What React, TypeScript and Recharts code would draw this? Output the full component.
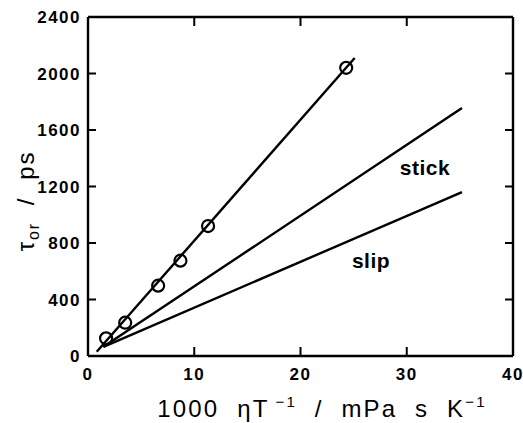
import React from 'react';
import { ComposedChart, Line, Scatter, XAxis, YAxis } from 'recharts';

// measured orientational relaxation times
const measuredX = [1.7, 3.5, 6.6, 8.7, 11.3, 24.3];
const measuredTau = [125, 236, 498, 675, 920, 2040];

// least squares fit through the measured points
const fitX = [0.82, 25.1];
const fitTau = [30, 2110];

// hydrodynamic predictions
const stickX = [1.45, 35.2];
const stickTau = [65, 1755];
const slipX = [1.45, 35.2];
const slipTau = [65, 1160];

const xTicks = [0, 10, 20, 30, 40];
const yTicks = [0, 400, 800, 1200, 1600, 2000, 2400];

const X_MAX = 40;
const Y_MAX = 2400;

const zip = (xs: number[], ys: number[]) => xs.map((x, i) => ({ x, y: ys[i] }));

const measured = zip(measuredX, measuredTau);
const fit = zip(fitX, fitTau);
const stick = zip(stickX, stickTau);
const slip = zip(slipX, slipTau);

const FONT = '"Liberation Sans", Arial, sans-serif';
const LW = 2.4;
const TICK = 9;

const tickStyle = { fill: '#000', fontSize: 17, fontWeight: 700, fontFamily: FONT, letterSpacing: 1.5 };
const noLabel = () => '';

const OpenCircle = (props: any) => {
  const { cx, cy } = props;
  return <circle cx={cx} cy={cy} r={6} fill="none" stroke="#000" strokeWidth={2.2} />;
};

const App: React.FC = () => {
  return (
    <div style={{ position: 'absolute', left: 0, top: 0, width: 523, height: 423, background: '#fff' }}>
      <ComposedChart width={523} height={423} margin={{ top: 16, right: 9, bottom: 0, left: 28 }}>
        {/* ticks are drawn outwards by recharts, shift them so they point into the frame */}
        <XAxis
          xAxisId="b"
          type="number"
          dataKey="x"
          domain={[0, X_MAX]}
          ticks={xTicks}
          stroke="#000"
          strokeWidth={LW}
          tickSize={TICK}
          tickLine={{ transform: `translate(0,-${TICK})`, strokeWidth: 2 }}
          tickMargin={3}
          height={67}
          tick={tickStyle}
        />
        <XAxis
          xAxisId="t"
          orientation="top"
          type="number"
          dataKey="x"
          domain={[0, X_MAX]}
          ticks={xTicks}
          stroke="#000"
          strokeWidth={LW}
          tickSize={TICK}
          tickLine={{ transform: `translate(0,${TICK})`, strokeWidth: 2 }}
          tickFormatter={noLabel}
          height={1}
        />
        <YAxis
          yAxisId="l"
          type="number"
          dataKey="y"
          domain={[0, Y_MAX]}
          ticks={yTicks}
          stroke="#000"
          strokeWidth={LW}
          tickSize={8}
          tickLine={{ transform: 'translate(8,0)', strokeWidth: 2 }}
          tickMargin={-1}
          width={60}
          tick={tickStyle}
        />
        <YAxis
          yAxisId="r"
          orientation="right"
          type="number"
          dataKey="y"
          domain={[0, Y_MAX]}
          ticks={yTicks}
          stroke="#000"
          strokeWidth={LW}
          tickSize={8}
          tickLine={{ transform: 'translate(-8,0)', strokeWidth: 2 }}
          tickFormatter={noLabel}
          width={1}
        />
        {/* keeps the top and right frame axes bound to the same scales */}
        <Line xAxisId="t" yAxisId="r" data={fit} dataKey="y" stroke="none" dot={false} legendType="none" isAnimationActive={false} />
        <Line xAxisId="b" yAxisId="l" data={fit} dataKey="y" type="linear" stroke="#000" strokeWidth={LW} dot={false} isAnimationActive={false} />
        <Line xAxisId="b" yAxisId="l" data={stick} dataKey="y" type="linear" stroke="#000" strokeWidth={LW} dot={false} isAnimationActive={false} />
        <Line xAxisId="b" yAxisId="l" data={slip} dataKey="y" type="linear" stroke="#000" strokeWidth={LW} dot={false} isAnimationActive={false} />
        <Scatter xAxisId="b" yAxisId="l" data={measured} dataKey="y" shape={<OpenCircle />} isAnimationActive={false} />
      </ComposedChart>

      <svg width={523} height={423} style={{ position: 'absolute', left: 0, top: 0, pointerEvents: 'none' }}>
        <text x={425} y={175} textAnchor="middle" fontFamily={FONT} fontWeight={700} fontSize={21} letterSpacing={0.5}>stick</text>
        <text x={371} y={268} textAnchor="middle" fontFamily={FONT} fontWeight={700} fontSize={21} letterSpacing={0.5}>slip</text>
        <text x={322} y={417} textAnchor="middle" fontFamily={FONT} fontSize={24} letterSpacing={2.2} style={{ whiteSpace: 'pre' }}>
          1000  ηT
          <tspan dx={6} dy={-10} fontSize={15}>−1</tspan>
          <tspan dy={10}>  /  mPa  s  K</tspan>
          <tspan dy={-10} fontSize={15}>−1</tspan>
        </text>
        <text transform="translate(34,201) rotate(-90)" textAnchor="middle" fontFamily={FONT} fontSize={24} letterSpacing={1.8} style={{ whiteSpace: 'pre' }}>
          τ
          <tspan dy={5} fontSize={16}>or</tspan>
          <tspan dy={-5}>  /  ps</tspan>
        </text>
      </svg>
    </div>
  );
};

export default App;
